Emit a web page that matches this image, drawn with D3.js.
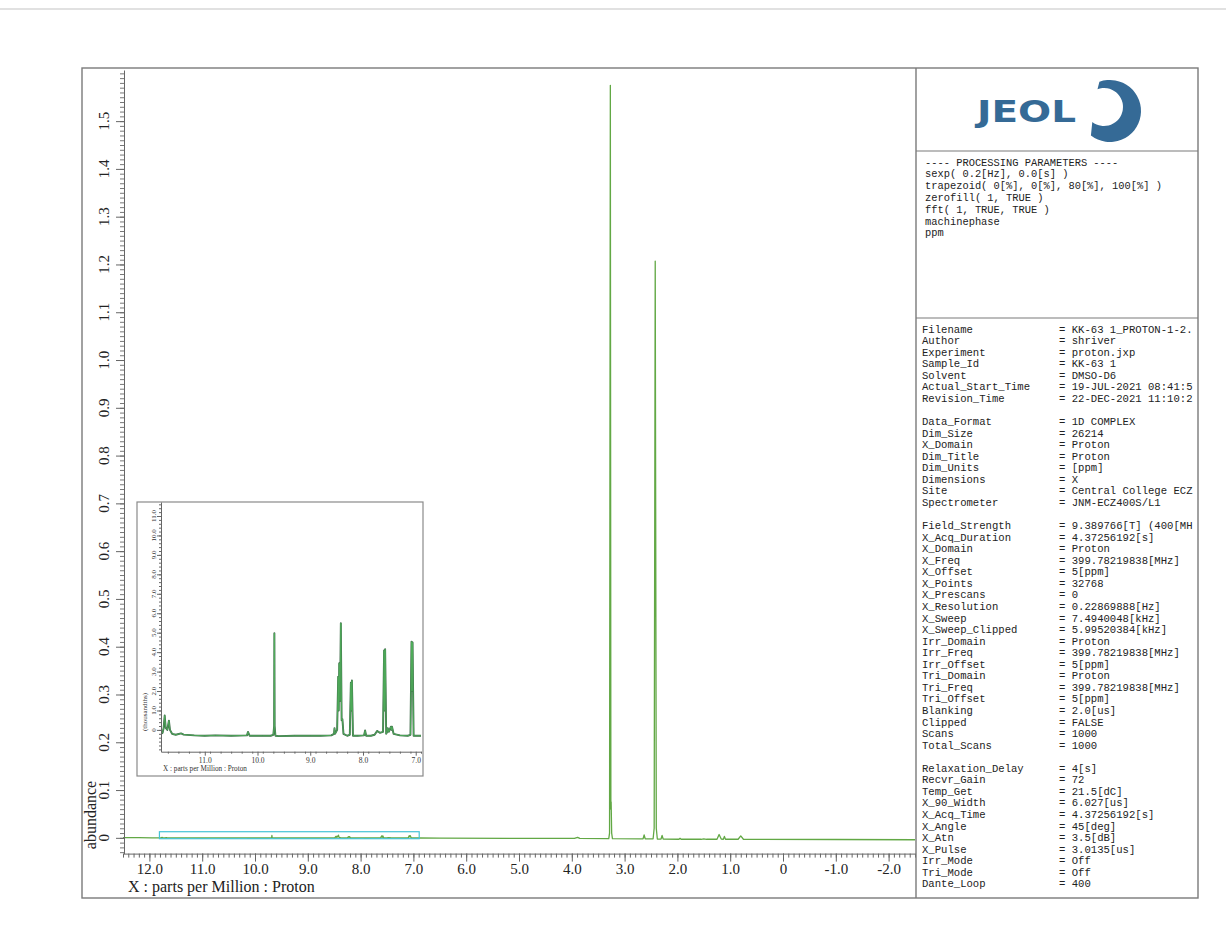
<!DOCTYPE html>
<html><head><meta charset="utf-8">
<script src="https://cdn.jsdelivr.net/npm/d3@7"></script>
<style>
body{margin:0;background:#fff}
svg{display:block}
text{white-space:pre}
</style>
</head><body>
<svg id="c" width="1226" height="951"></svg>
<script>
// ---------------- DATA ----------------
// spectrum vertices: [ppm, abundance]
const spectrum = [
  [12.50, 0.0006], [12.20, 0.0004], [11.95, 0.0001], [11.83, -0.0002], [11.80, -0.00015],
  [11.78, 0.0001], [11.76, 0.00074], [11.74, 0.0001], [11.71, 0.0000], [11.68, 0.00048],
  [11.66, 0.0000], [11.62, -0.0002], [11.55, -0.00025], [11.45, -0.00018], [11.40, -0.00024],
  [11.20, -0.00028], [11.00, -0.0003], [10.80, -0.00028], [10.50, -0.0003], [10.20, -0.00028],
  [10.18, -0.0001], [10.15, -0.0003], [9.90, -0.0003], [9.75, -0.0003], [9.70, -0.00025],
  [9.685, 0.0002], [9.68, 0.00497], [9.675, 0.0002], [9.66, -0.0003], [9.60, -0.00032],
  [9.30, -0.0003], [9.00, -0.0003], [8.80, -0.0003], [8.60, -0.00028], [8.55, -0.0002],
  [8.54, 0.00009], [8.53, -0.0002], [8.49, 0.0000], [8.47, 0.00274], [8.46, 0.0010],
  [8.45, 0.00343], [8.435, 0.0015], [8.42, 0.00549], [8.405, 0.0005], [8.39, 0.00055],
  [8.37, -0.0002], [8.30, -0.0003], [8.25, -0.00025], [8.23, 0.00243], [8.22, 0.0010],
  [8.21, 0.00254], [8.19, -0.0003], [8.10, -0.0003], [7.98, -0.00028], [7.96, -0.00003],
  [7.94, -0.0003], [7.85, -0.0003], [7.78, -0.00025], [7.73, -0.00005], [7.68, -0.00015],
  [7.62, -0.0001], [7.60, 0.00408], [7.59, 0.0010], [7.58, 0.00415], [7.56, -0.0002],
  [7.54, -0.0001], [7.53, 0.00009], [7.51, -0.0001], [7.47, 0.00017], [7.46, 0.0000],
  [7.45, 0.00017], [7.42, -0.0002], [7.30, -0.00028], [7.15, -0.0003], [7.10, -0.00025],
  [7.08, 0.00454], [7.07, 0.0020], [7.06, 0.0045], [7.04, -0.0003], [6.90, -0.0003],
  [6.50, -0.0005], [5.00, -0.0010], [3.95, -0.0012], [3.89, 0.0010], [3.85, -0.0012],
  [3.30, -0.0015], [3.285, 0.010], [3.27, 1.575], [3.26, 0.060], [3.255, 0.075],
  [3.245, 0.010], [3.23, -0.0015], [2.70, -0.0020], [2.65, -0.0020], [2.63, 0.0060],
  [2.61, -0.0020], [2.46, -0.0020], [2.44, 0.020], [2.42, 1.207], [2.40, 0.020],
  [2.38, -0.0025], [2.31, -0.0025], [2.29, 0.0050], [2.27, -0.0025], [1.97, -0.0030],
  [1.95, -0.0010], [1.93, -0.0030], [1.55, -0.0030], [1.50, -0.0020], [1.45, -0.0030],
  [1.25, -0.0030], [1.21, 0.0070], [1.17, -0.0025], [1.13, -0.0030], [1.11, 0.0030],
  [1.09, -0.0030], [0.85, -0.0030], [0.80, 0.0040], [0.75, -0.0030], [-1.00, -0.0035],
  [-2.50, -0.0040]
];

// main axis ticks
const xTickValues = [12, 11, 10, 9, 8, 7, 6, 5, 4, 3, 2, 1, 0, -1, -2];
const xTickLabels = ["12.0","11.0","10.0","9.0","8.0","7.0","6.0","5.0","4.0","3.0","2.0","1.0","0","-1.0","-2.0"];
const yTickValues = [0, 0.1, 0.2, 0.3, 0.4, 0.5, 0.6, 0.7, 0.8, 0.9, 1.0, 1.1, 1.2, 1.3, 1.4, 1.5];
const yTickLabels = ["0","0.1","0.2","0.3","0.4","0.5","0.6","0.7","0.8","0.9","1.0","1.1","1.2","1.3","1.4","1.5"];

// inset (expanded region, abundance in thousandths)
const insetRange = [11.81, 6.89];   // ppm window marked on main plot
const insetXTickValues = [11, 10, 9, 8, 7];
const insetXTickLabels = ["11.0","10.0","9.0","8.0","7.0"];
const insetYTickValues = [0,1,2,3,4,5,6,7,8,9,10,11];
const insetYTickLabels = ["0","1.0","2.0","3.0","4.0","5.0","6.0","7.0","8.0","9.0","10.0","11.0"];

const xTitle = "X : parts per Million : Proton";
const yTitle = "abundance";
const insetYTitle = "(thousandths)";

const processingLines = [
  "---- PROCESSING PARAMETERS ----",
  "sexp( 0.2[Hz], 0.0[s] )",
  "trapezoid( 0[%], 0[%], 80[%], 100[%] )",
  "zerofill( 1, TRUE )",
  "fft( 1, TRUE, TRUE )",
  "machinephase",
  "ppm"
];
const paramsGroup1 = [
  ["Filename","= KK-63 1_PROTON-1-2."],["Author","= shriver"],["Experiment","= proton.jxp"],
  ["Sample_Id","= KK-63 1"],["Solvent","= DMSO-D6"],["Actual_Start_Time","= 19-JUL-2021 08:41:5"],
  ["Revision_Time","= 22-DEC-2021 11:10:2"]
];
const paramsGroup2 = [
  ["Data_Format","= 1D COMPLEX"],["Dim_Size","= 26214"],["X_Domain","= Proton"],["Dim_Title","= Proton"],
  ["Dim_Units","= [ppm]"],["Dimensions","= X"],["Site","= Central College ECZ"],["Spectrometer","= JNM-ECZ400S/L1"]
];
const paramsGroup3 = [
  ["Field_Strength","= 9.389766[T] (400[MH"],["X_Acq_Duration","= 4.37256192[s]"],["X_Domain","= Proton"],
  ["X_Freq","= 399.78219838[MHz]"],["X_Offset","= 5[ppm]"],["X_Points","= 32768"],["X_Prescans","= 0"],
  ["X_Resolution","= 0.22869888[Hz]"],["X_Sweep","= 7.4940048[kHz]"],["X_Sweep_Clipped","= 5.99520384[kHz]"],
  ["Irr_Domain","= Proton"],["Irr_Freq","= 399.78219838[MHz]"],["Irr_Offset","= 5[ppm]"],
  ["Tri_Domain","= Proton"],["Tri_Freq","= 399.78219838[MHz]"],["Tri_Offset","= 5[ppm]"],
  ["Blanking","= 2.0[us]"],["Clipped","= FALSE"],["Scans","= 1000"],["Total_Scans","= 1000"]
];
const paramsGroup4 = [
  ["Relaxation_Delay","= 4[s]"],["Recvr_Gain","= 72"],["Temp_Get","= 21.5[dC]"],["X_90_Width","= 6.027[us]"],
  ["X_Acq_Time","= 4.37256192[s]"],["X_Angle","= 45[deg]"],["X_Atn","= 3.5[dB]"],["X_Pulse","= 3.0135[us]"],
  ["Irr_Mode","= Off"],["Tri_Mode","= Off"],["Dante_Loop","= 400"]
];

// ---------------- DRAW ----------------
const svg = d3.select("#c");
const serif = "'Liberation Serif','Times New Roman',serif";
const mono = "'Liberation Mono','Courier New',monospace";
const frameCol = "#7a7a7a";
const lineCol = "#62a845";

svg.append("rect").attr("width",1226).attr("height",951).attr("fill","#fff");
// scan edge line
svg.append("line").attr("x1",0).attr("x2",1226).attr("y1",9).attr("y2",9)
   .attr("stroke","#c4c4c4").attr("stroke-width",1.2);

const defs = svg.append("defs");
defs.append("clipPath").attr("id","mainClip").append("rect")
  .attr("x",123).attr("y",70).attr("width",792).attr("height",783);
defs.append("clipPath").attr("id","insetClip").append("rect")
  .attr("x",161).attr("y",502).attr("width",260).attr("height",250);
defs.append("clipPath").attr("id","panelClip").append("rect")
  .attr("x",917).attr("y",152).attr("width",280).attr("height",745);

// main scales
const x = d3.scaleLinear().domain([12.5, -2.5]).range([123, 915]);
const y = d3.scaleLinear().domain([-0.033, 1.607]).range([853.6, 70]);

// main spectrum
const line = d3.line().x(d => x(d[0])).y(d => y(d[1]));
svg.append("path").datum(spectrum).attr("clip-path","url(#mainClip)")
  .attr("d", line).attr("fill","none").attr("stroke",lineCol).attr("stroke-width",1.3)
  .attr("stroke-linejoin","round");

// inset window marker
svg.append("rect")
  .attr("x", x(insetRange[0])).attr("width", x(insetRange[1]) - x(insetRange[0]))
  .attr("y", y(0.0128)).attr("height", y(-0.0018) - y(0.0128))
  .attr("fill","none").attr("stroke","#45c3d6").attr("stroke-width",1.2);

// main x axis
const gx = svg.append("g").attr("transform","translate(0,853.6)");
gx.call(d3.axisBottom(x).tickValues(d3.range(-25,126,1).map(v=>v/10)).tickSize(4).tickSizeOuter(0).tickFormat(""));
gx.call(g => g.selectAll(".tick line").attr("stroke","#666"));
const gx2 = svg.append("g").attr("transform","translate(0,853.6)");
gx2.call(d3.axisBottom(x).tickValues(xTickValues).tickSize(8).tickSizeOuter(0).tickPadding(1.5)
  .tickFormat((d,i)=>xTickLabels[i]));
gx2.select(".domain").remove();
svg.selectAll("g .domain").attr("stroke","#666");
gx2.selectAll(".tick line").attr("stroke","#666");
gx2.selectAll("text").attr("font-family",serif).attr("font-size",15).attr("fill","#222");

// main y axis
const gy = svg.append("g").attr("transform","translate(124,0)");
gy.call(d3.axisLeft(y).tickValues(d3.range(-3,161,1).map(v=>v/100)).tickSize(4).tickSizeOuter(0).tickFormat(""));
gy.select(".domain").attr("stroke","#666");
gy.selectAll(".tick line").attr("stroke","#777");
const gy2 = svg.append("g").attr("transform","translate(124,0)");
gy2.call(d3.axisLeft(y).tickValues(yTickValues).tickSize(8).tickSizeOuter(0).tickFormat(""));
gy2.select(".domain").remove();
gy2.selectAll(".tick line").attr("stroke","#666");
svg.append("g").selectAll("text").data(yTickValues).join("text")
  .attr("transform",(d)=>`translate(109,${y(d)}) rotate(-90)`)
  .attr("text-anchor","middle").attr("font-family",serif).attr("font-size",15).attr("fill","#222")
  .text((d,i)=>yTickLabels[i]);

// titles
svg.append("text").attr("x",128).attr("y",892).attr("font-family",serif).attr("font-size",16)
  .attr("fill","#222").text(xTitle);
svg.append("text").attr("transform","translate(96,815) rotate(-90)").attr("text-anchor","middle")
  .attr("font-family",serif).attr("font-size",16).attr("fill","#222").text(yTitle);

// ---------------- INSET ----------------
svg.append("rect").attr("x",137).attr("y",502).attr("width",286).attr("height",274)
  .attr("fill","#fff").attr("stroke","#8a8a8a").attr("stroke-width",1.2);
const xi = d3.scaleLinear().domain([11.83, 6.9]).range([161, 421]);
const yi = d3.scaleLinear().domain([-1.12, 11.72]).range([751.7, 502]);
const insetData = spectrum.filter(d => d[0] <= 11.83 && d[0] >= 6.9).map(d => [d[0], d[1]*1000]);
const lineI = d3.line().x(d => xi(d[0])).y(d => yi(d[1]));
const gI = svg.append("g").attr("clip-path","url(#insetClip)");
gI.append("path").datum(insetData).attr("d",lineI).attr("fill","none")
  .attr("stroke","#3f6b4a").attr("stroke-width",1.9).attr("stroke-linejoin","round");
gI.append("path").datum(insetData).attr("d",lineI).attr("fill","none")
  .attr("stroke","#4fae5a").attr("stroke-width",0.9).attr("stroke-linejoin","round");

const gxi = svg.append("g").attr("transform","translate(0,751.7)");
gxi.call(d3.axisBottom(xi).tickValues(d3.range(69,119,2).map(v=>v/10)).tickSize(2).tickSizeOuter(0).tickFormat(""));
const gxi2 = svg.append("g").attr("transform","translate(0,751.7)");
gxi2.call(d3.axisBottom(xi).tickValues(insetXTickValues).tickSize(4).tickSizeOuter(0).tickPadding(1.5)
  .tickFormat((d,i)=>insetXTickLabels[i]));
gxi2.select(".domain").remove();
gxi.select(".domain").attr("stroke","#666");
[gxi,gxi2].forEach(g=>g.selectAll(".tick line").attr("stroke","#666"));
gxi2.selectAll("text").attr("font-family",serif).attr("font-size",7.5).attr("fill","#333");

const gyi = svg.append("g").attr("transform","translate(161,0)");
gyi.call(d3.axisLeft(yi).tickValues(d3.range(-5,59,1).map(v=>v/5)).tickSize(2).tickSizeOuter(0).tickFormat(""));
gyi.select(".domain").attr("stroke","#666");
const gyi2 = svg.append("g").attr("transform","translate(161,0)");
gyi2.call(d3.axisLeft(yi).tickValues(insetYTickValues).tickSize(4).tickSizeOuter(0).tickFormat(""));
gyi2.select(".domain").remove();
[gyi,gyi2].forEach(g=>g.selectAll(".tick line").attr("stroke","#666"));
svg.append("g").selectAll("text").data(insetYTickValues).join("text")
  .attr("transform",d=>`translate(155.5,${yi(d)}) rotate(-90)`)
  .attr("text-anchor","middle").attr("font-family",serif).attr("font-size",7).attr("fill","#333")
  .text((d,i)=>insetYTickLabels[i]);
svg.append("text").attr("transform","translate(147,712) rotate(-90)").attr("text-anchor","middle")
  .attr("font-family",serif).attr("font-size",7).attr("fill","#333").text(insetYTitle);
svg.append("text").attr("x",163).attr("y",770.5).attr("font-family",serif).attr("font-size",7.2)
  .attr("fill","#333").text(xTitle);

// ---------------- FRAME & PANEL ----------------
svg.append("rect").attr("x",82).attr("y",68).attr("width",1116).attr("height",830)
  .attr("fill","none").attr("stroke",frameCol).attr("stroke-width",1.4);
svg.append("line").attr("x1",916).attr("x2",916).attr("y1",68).attr("y2",898)
  .attr("stroke",frameCol).attr("stroke-width",1.4);
svg.append("line").attr("x1",916).attr("x2",1198).attr("y1",151).attr("y2",151)
  .attr("stroke",frameCol).attr("stroke-width",1.2);
svg.append("line").attr("x1",916).attr("x2",1198).attr("y1",318).attr("y2",318)
  .attr("stroke",frameCol).attr("stroke-width",1.2);

// JEOL logo
const logoCol = "#356a96";
svg.append("text").attr("x",977).attr("y",121.5).attr("font-family","'DejaVu Sans',sans-serif")
  .attr("font-weight","bold").attr("font-size",30).attr("textLength",99).attr("lengthAdjust","spacingAndGlyphs")
  .attr("fill",logoCol).text("JEOL");
(function(){
  const cx=1110, cy=111, R=31, icx=1104, icy=107, r=19;
  const a1=-20*Math.PI/180, a2=218*Math.PI/180;
  const P=(x0,y0,rr,a)=>[x0+rr*Math.sin(a), y0-rr*Math.cos(a)];
  const o1=P(cx,cy,R,a1), o2=P(cx,cy,R,a2), i2=P(icx,icy,r,a2), i1=P(icx,icy,r,a1);
  const d=`M${o1}A${R},${R} 0 1 1 ${o2}L${i2}A${r},${r} 0 1 0 ${i1}Z`;
  svg.append("path").attr("d",d).attr("fill",logoCol);
})();

// processing parameters
const panel = svg.append("g").attr("clip-path","url(#panelClip)");
panel.selectAll("text.proc").data(processingLines).join("text").attr("class","proc")
  .attr("x",925).attr("y",(d,i)=>165.5+i*11.8).attr("font-family",mono).attr("font-size",10.4)
  .attr("fill","#222").text(d=>d);

// acquisition parameters
const rows = [];
[paramsGroup1,paramsGroup2,paramsGroup3,paramsGroup4].forEach((grp,gi)=>{
  if (gi>0) rows.push(null);
  grp.forEach(r=>rows.push(r));
});
rows.forEach((r,i)=>{
  if(!r) return;
  const yy = 332.5 + i*11.56;
  panel.append("text").attr("x",922).attr("y",yy).attr("font-family",mono).attr("font-size",10.6)
    .attr("fill","#222").text(r[0]);
  panel.append("text").attr("x",1059).attr("y",yy).attr("font-family",mono).attr("font-size",10.6)
    .attr("fill","#222").text(r[1]);
});
</script>
</body></html>
